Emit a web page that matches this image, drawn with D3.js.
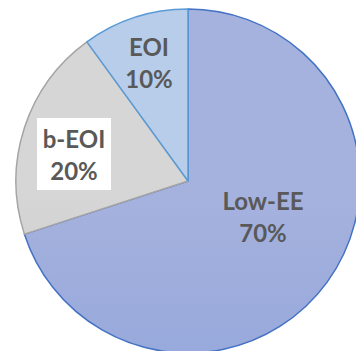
<!DOCTYPE html>
<html>
<head>
<meta charset="utf-8">
<script src="https://cdn.jsdelivr.net/npm/d3@7"></script>
<style>
  html, body { margin: 0; padding: 0; background: #ffffff; }
  svg { display: block; }
  .lbl { font-family: Lato, "Open Sans", sans-serif; font-weight: bold; font-size: 24px; fill: #595959; }
</style>
</head>
<body>
<div id="chart"></div>
<script>
var categories = ["Low-EE", "b-EOI", "EOI"];
var values = [70, 20, 10];
var percentLabels = ["70%", "20%", "10%"];

var width = 356, height = 351;
var cx = 188, cy = 181, radius = 172;

// fill gradients (top -> bottom) and stroke per slice
var sliceStyles = {
  "Low-EE": { top: "#a6b2de", bottom: "#889fd8", stroke: "#4472c4" },
  "b-EOI": { top: "#d6d6d6", bottom: "#c2c2c2", stroke: "#a5a5a5" },
  "EOI": { top: "#b7cdea", bottom: "#97bde6", stroke: "#5b9bd5" }
};

// where Excel put each label (offset from centre of pie)
var labelPos = {
  "Low-EE": { x: 75, y: 36 },
  "b-EOI": { x: -114, y: -26, box: true },
  "EOI": { x: -39, y: -118 }
};

var svg = d3.select("#chart").append("svg")
    .attr("width", width)
    .attr("height", height);

var defs = svg.append("defs");
categories.forEach(function(c, i) {
  var g = defs.append("linearGradient")
      .attr("id", "grad" + i)
      .attr("gradientUnits", "userSpaceOnUse")
      .attr("x1", 0).attr("y1", cy - radius)
      .attr("x2", 0).attr("y2", cy + radius);
  g.append("stop").attr("offset", "0%").attr("stop-color", sliceStyles[c].top);
  g.append("stop").attr("offset", "100%").attr("stop-color", sliceStyles[c].bottom);
});

var pie = d3.pie().sort(null).value(function(d) { return d; });
var arcs = pie(values);

var arc = d3.arc().innerRadius(0).outerRadius(radius);

var pieG = svg.append("g")
    .attr("transform", "translate(" + cx + "," + cy + ")");

pieG.selectAll("path")
    .data(arcs)
    .enter()
    .append("path")
    .attr("d", arc)
    .attr("fill", function(d, i) { return "url(#grad" + i + ")"; })
    .attr("stroke", function(d, i) { return sliceStyles[categories[i]].stroke; })
    .attr("stroke-width", 1.5)
    .attr("stroke-linejoin", "round");

var labelG = pieG.selectAll(".labelG")
    .data(arcs)
    .enter()
    .append("g")
    .attr("class", "labelG")
    .attr("transform", function(d, i) {
      var p = labelPos[categories[i]];
      return "translate(" + p.x + "," + p.y + ")";
    });

labelG.filter(function(d, i) { return labelPos[categories[i]].box; })
    .append("rect")
    .attr("x", -37)
    .attr("y", -37)
    .attr("width", 74)
    .attr("height", 72)
    .attr("fill", "#ffffff");

labelG.append("text")
    .attr("class", "lbl")
    .attr("text-anchor", "middle")
    .attr("y", -7)
    .text(function(d, i) { return categories[i]; });

labelG.append("text")
    .attr("class", "lbl")
    .attr("text-anchor", "middle")
    .attr("y", 25)
    .text(function(d, i) { return percentLabels[i]; });
</script>
</body>
</html>
